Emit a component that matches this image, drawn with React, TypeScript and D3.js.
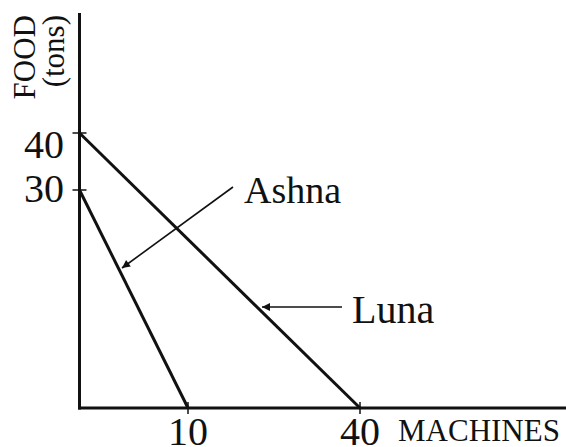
import React from "react";
import * as d3 from "d3";

// Data
const xTickValues = [10, 40];
const yTickValues = [30, 40];
const xTickLabels = ["10", "40"];
const yTickLabels = ["30", "40"];
const seriesNames = ["Ashna", "Luna"];
const foodMax = [30, 40]; // y-intercepts (tons of food)
const machinesMax = [10, 40]; // x-intercepts (machines)
const xAxisLabel = "MACHINES";
const yAxisLabel1 = "FOOD";
const yAxisLabel2 = "(tons)";

const W = 566;
const H = 447;
const FONT = "'Liberation Serif', 'Times New Roman', serif";

export default function App() {
  // schematic (non-proportional) axes as in the original drawing
  const x = d3.scaleLinear().domain([0, 10, 40]).range([79.5, 188, 360]);
  const y = d3.scaleLinear().domain([0, 30, 40]).range([408, 190, 133]);
  const line = d3
    .line<[number, number]>()
    .x((d) => x(d[0]))
    .y((d) => y(d[1]));

  const ppf = seriesNames.map((name, i) => ({
    name,
    pts: [
      [0, foodMax[i]],
      [machinesMax[i], 0],
    ] as [number, number][],
  }));

  // annotation positions (pixel space, near each line)
  const ashnaTip = { x: 122, y: 268 };
  const ashnaStart = { x: 233, y: 187 };
  const lunaTip = { x: 262, y: 307 };
  const lunaStart = { x: 342, y: 307 };

  return (
    <svg
      width={W}
      height={H}
      style={{ position: "absolute", left: 0, top: 0, background: "#fff" }}
      fontFamily={FONT}
    >
      <defs>
        <marker
          id="arr"
          viewBox="0 0 10 10"
          refX={10}
          refY={5}
          markerWidth={12}
          markerHeight={8}
          markerUnits="userSpaceOnUse"
          orient="auto"
        >
          <path d="M0,0 L10,5 L0,10 z" fill="#111" />
        </marker>
      </defs>

      {/* axes */}
      <line x1={x(0)} y1={13} x2={x(0)} y2={y(0) + 1.5} stroke="#111" strokeWidth={3} />
      <line x1={x(0) - 1.5} y1={y(0)} x2={W} y2={y(0)} stroke="#111" strokeWidth={3} />

      {/* y ticks */}
      {yTickValues.map((v, i) => (
        <g key={"yt" + i}>
          <line x1={x(0) - 7} x2={x(0) + 7} y1={y(v)} y2={y(v)} stroke="#111" strokeWidth={1.5} />
          <text
            x={64}
            y={y(v)}
            dy={i === 1 ? "0.62em" : "0.3em"}
            textAnchor="end"
            fontSize={40}
            fill="#111"
          >
            {yTickLabels[i]}
          </text>
        </g>
      ))}

      {/* x ticks */}
      {xTickValues.map((v, i) => (
        <g key={"xt" + i}>
          <line x1={x(v)} x2={x(v)} y1={y(0) - 6} y2={y(0) + 6} stroke="#111" strokeWidth={1.5} />
          <text x={x(v)} y={445} textAnchor="middle" fontSize={40} fill="#111">
            {xTickLabels[i]}
          </text>
        </g>
      ))}

      {/* axis labels */}
      <text x={398} y={441} fontSize={31} fill="#111">
        {xAxisLabel}
      </text>
      <text transform="translate(35,15) rotate(-90)" textAnchor="end" fontSize={31} fill="#111">
        {yAxisLabel1}
      </text>
      <text transform="translate(64,15) rotate(-90)" textAnchor="end" fontSize={31} fill="#111">
        {yAxisLabel2}
      </text>

      {/* PPF lines */}
      {ppf.map((s) => (
        <path key={s.name} d={line(s.pts) || ""} fill="none" stroke="#111" strokeWidth={3} />
      ))}

      {/* annotations */}
      <line
        x1={ashnaStart.x}
        y1={ashnaStart.y}
        x2={ashnaTip.x}
        y2={ashnaTip.y}
        stroke="#111"
        strokeWidth={1.6}
        markerEnd="url(#arr)"
      />
      <text x={244} y={203} fontSize={38} fill="#111">
        {seriesNames[0]}
      </text>
      <line
        x1={lunaStart.x}
        y1={lunaStart.y}
        x2={lunaTip.x}
        y2={lunaTip.y}
        stroke="#111"
        strokeWidth={1.6}
        markerEnd="url(#arr)"
      />
      <text x={352} y={323} fontSize={40} fill="#111">
        {seriesNames[1]}
      </text>
    </svg>
  );
}
